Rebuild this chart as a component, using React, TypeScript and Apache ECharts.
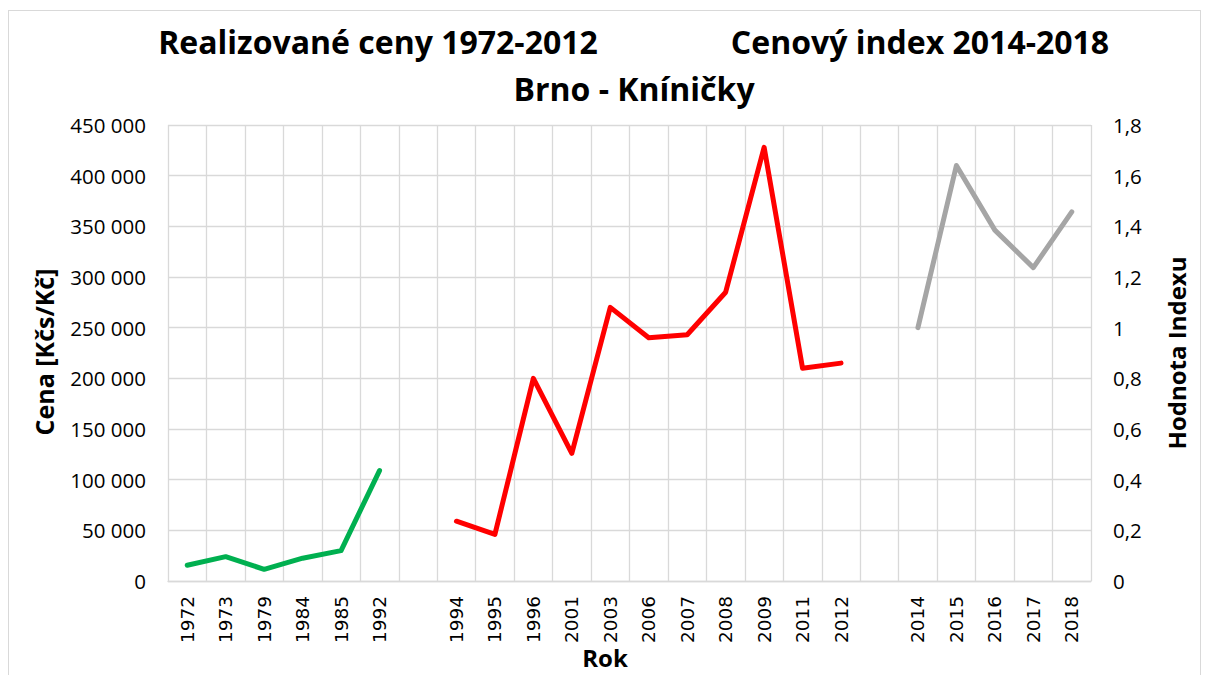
import React, { useEffect, useRef } from "react";
import * as echarts from "echarts";

const categories: string[] = [
  "1972", "1973", "1979", "1984", "1985", "1992", " ",
  "1994", "1995", "1996", "2001", "2003", "2006", "2007", "2008", "2009", "2011", "2012", "  ",
  "2014", "2015", "2016", "2017", "2018",
];

const greenYears = ["1972", "1973", "1979", "1984", "1985", "1992"];
const greenValues = [15500, 24000, 11500, 22500, 30000, 109000];

const redYears = ["1994", "1995", "1996", "2001", "2003", "2006", "2007", "2008", "2009", "2011", "2012"];
const redValues = [59000, 46000, 200000, 126000, 270000, 240000, 243000, 285000, 428000, 210000, 215000];

const grayYears = ["2014", "2015", "2016", "2017", "2018"];
const grayValues = [1.0, 1.64, 1.385, 1.237, 1.457];

const leftTicks = { min: 0, max: 450000, interval: 50000 };
const rightTicks = { min: 0, max: 1.8, interval: 0.2 };

function toSeries(years: string[], values: number[]) {
  return categories.map((c) => {
    const i = years.indexOf(c);
    return i >= 0 ? values[i] : null;
  });
}

const FONT = "'Open Sans', 'Noto Sans', sans-serif";

export default function App() {
  const ref = useRef<HTMLDivElement>(null);
  useEffect(() => {
    if (!ref.current) return;
    const chart = echarts.init(ref.current, undefined, { renderer: "svg" });
    const lineCommon = {
      type: "line" as const,
      symbol: "none",
      connectNulls: false,
      lineStyle: { width: 5, cap: "round", join: "round" },
    };
    chart.setOption({
      animation: false,
      backgroundColor: "#fff",
      grid: { left: 168, right: 117, top: 125, bottom: 94, containLabel: false },
      xAxis: {
        type: "category",
        data: categories,
        boundaryGap: true,
        axisLine: { show: true, lineStyle: { color: "#d9d9d9", width: 1.3 } },
        axisTick: { show: false },
        splitLine: { show: true, interval: 0, lineStyle: { color: "#d9d9d9", width: 1.3 } },
        axisLabel: {
          interval: 0,
          rotate: 90,
          margin: 15,
          color: "#000",
          fontFamily: "'DejaVu Sans', sans-serif",
          fontSize: 18.5,
        },
      },
      yAxis: [
        {
          type: "value",
          min: leftTicks.min,
          max: leftTicks.max,
          interval: leftTicks.interval,
          axisLine: { show: false },
          axisTick: { show: false },
          splitLine: { show: true, lineStyle: { color: "#d9d9d9", width: 1.3 } },
          axisLabel: {
            margin: 22,
            color: "#000",
            fontFamily: FONT,
            fontSize: 20.5,
            formatter: (v: number) => String(Math.round(v)).replace(/\B(?=(\d{3})+(?!\d))/g, " "),
          },
        },
        {
          type: "value",
          position: "right",
          min: rightTicks.min,
          max: rightTicks.max,
          interval: rightTicks.interval,
          axisLine: { show: false },
          axisTick: { show: false },
          splitLine: { show: false },
          axisLabel: {
            margin: 22,
            color: "#000",
            fontFamily: FONT,
            fontSize: 20.5,
            formatter: (v: number) => String(Math.round(v * 10) / 10).replace(".", ","),
          },
        },
      ],
      graphic: [
        {
          type: "text",
          x: 378,
          y: 41,
          style: {
            text: "Realizované ceny 1972-2012",
            textAlign: "center",
            textVerticalAlign: "middle",
            font: `bold 32px ${FONT}`,
            fill: "#000",
          },
        },
        {
          type: "text",
          x: 920,
          y: 41,
          style: {
            text: "Cenový index 2014-2018",
            textAlign: "center",
            textVerticalAlign: "middle",
            font: `bold 32px ${FONT}`,
            fill: "#000",
          },
        },
        {
          type: "text",
          x: 634,
          y: 88,
          style: {
            text: "Brno - Kníničky",
            textAlign: "center",
            textVerticalAlign: "middle",
            font: `bold 32px ${FONT}`,
            fill: "#000",
          },
        },
        {
          type: "text",
          x: 44,
          y: 352,
          rotation: Math.PI / 2,
          style: {
            text: "Cena [Kčs/Kč]",
            textAlign: "center",
            textVerticalAlign: "middle",
            font: `bold 25px ${FONT}`,
            fill: "#000",
          },
        },
        {
          type: "text",
          x: 1176,
          y: 353,
          rotation: Math.PI / 2,
          style: {
            text: "Hodnota Indexu",
            textAlign: "center",
            textVerticalAlign: "middle",
            font: `bold 24px ${FONT}`,
            fill: "#000",
          },
        },
        {
          type: "text",
          x: 605,
          y: 657,
          style: {
            text: "Rok",
            textAlign: "center",
            textVerticalAlign: "middle",
            font: `bold 24px ${FONT}`,
            fill: "#000",
          },
        },
      ],
      series: [
        { ...lineCommon, name: "1972-1992", yAxisIndex: 0, data: toSeries(greenYears, greenValues), itemStyle: { color: "#00B050" }, lineStyle: { ...lineCommon.lineStyle, color: "#00B050" } },
        { ...lineCommon, name: "1994-2012", yAxisIndex: 0, data: toSeries(redYears, redValues), itemStyle: { color: "#FF0000" }, lineStyle: { ...lineCommon.lineStyle, color: "#FF0000" } },
        { ...lineCommon, name: "2014-2018", yAxisIndex: 1, data: toSeries(grayYears, grayValues), itemStyle: { color: "#A5A5A5" }, lineStyle: { ...lineCommon.lineStyle, color: "#A5A5A5" } },
      ],
    });
    return () => chart.dispose();
  }, []);
  return (
    <div style={{ position: "fixed", left: 0, top: 0, width: 1208, height: 675, background: "#fff" }}>
      <div ref={ref} style={{ position: "absolute", left: 0, top: 0, width: 1208, height: 675 }} />
      <div
        style={{
          position: "absolute",
          left: 8,
          top: 10,
          width: 1191,
          height: 700,
          border: "1px solid #d9d9d9",
          pointerEvents: "none",
        }}
      />
    </div>
  );
}
